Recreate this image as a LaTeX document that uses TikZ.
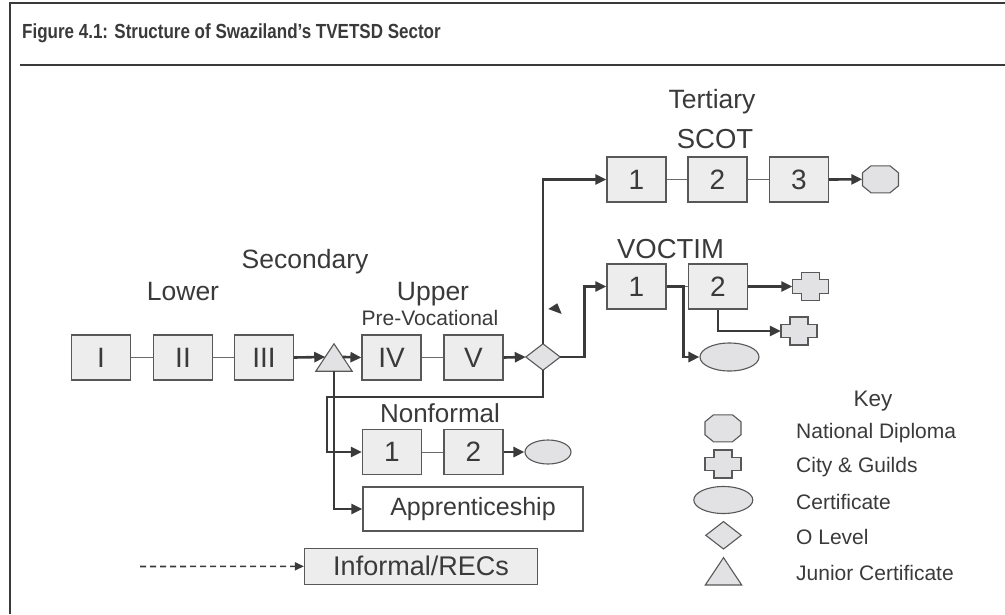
\documentclass[tikz,border=0pt]{standalone}
\usepackage{fontspec}
\setmainfont{Liberation Sans}
\usetikzlibrary{arrows.meta,shapes.geometric,calc}
\definecolor{ink}{HTML}{3A3A3A}
\definecolor{boxfill}{HTML}{EDEDED}
\definecolor{markfill}{HTML}{E2E2E4}

% outlines of the award symbols, drawn round an invisible slot node
\newcommand\octmark[1]{\filldraw[markshape] (#1.center) +(-9.5,-13.5) -- +(9.5,-13.5) -- +(18,-6.5) -- +(18,6.5) -- +(9.5,13.5) -- +(-9.5,13.5) -- +(-18,6.5) -- +(-18,-6.5) -- cycle;}
\newcommand\cgmark[1]{\filldraw[markshape] (#1.center) +(-9,-14) -- +(9,-14) -- +(9,-6.7) -- +(18,-6.7) -- +(18,6.7) -- +(9,6.7) -- +(9,14) -- +(-9,14) -- +(-9,6.7) -- +(-18,6.7) -- +(-18,-6.7) -- +(-9,-6.7) -- cycle;}
\newcommand\jcmark[1]{\filldraw[markshape] (#1.north) -- (#1.south east) -- (#1.south west) -- cycle;}
\newcommand\olmark[1]{\filldraw[markshape] (#1.north) -- (#1.east) -- (#1.south) -- (#1.west) -- cycle;}

\begin{document}
\begin{tikzpicture}[x=1pt,y=-1pt,
  every node/.style={text=ink},
  stage/.style={draw=ink!85, line width=1.2pt, fill=boxfill, minimum width=59pt, minimum height=45pt, inner sep=0pt, font=\fontsize{28}{30}\selectfont},
  wide/.style={draw=ink!85, line width=1.2pt, minimum width=#1, inner sep=0pt},
  markshape/.style={draw=ink!85, line width=1.1pt, fill=markfill},
  cert/.style={ellipse, draw=ink!85, line width=1.1pt, fill=markfill, inner sep=0pt},
  octslot/.style={inner sep=0pt, minimum width=36pt, minimum height=27pt},
  cgslot/.style={inner sep=0pt, minimum width=36pt, minimum height=28pt},
  jcslot/.style={inner sep=0pt, minimum width=36pt, minimum height=27pt},
  olslot/.style={inner sep=0pt, minimum width=34pt, minimum height=26pt},
  link/.style={draw=ink!75, line width=1pt},
  flow/.style={draw=ink, line width=2.6pt, -{Triangle[length=11pt,width=10pt]}},
  hint/.style={draw=ink, line width=1.6pt, dash pattern=on 6pt off 4pt, -{Triangle[length=9pt,width=8pt]}},
  big/.style={inner sep=0pt, anchor=base, font=\fontsize{26.5}{28}\selectfont},
  keytext/.style={inner sep=0pt, anchor=base west, font=\fontsize{21}{23}\selectfont}
]
\useasboundingbox (0,0) rectangle (1005,614);

% frame and title
\draw[ink, line width=2.5pt] (10,614) -- (10,3) -- (1005,3);
\draw[ink, line width=2.5pt] (20,65) -- (1005,65);
\node[inner sep=0pt, anchor=base west, font=\bfseries\fontsize{17}{20}\selectfont] (title) at (22,38) {\scalebox{1}[1.2]{Figure 4.1: Structure of Swaziland’s TVETSD Sector}};

% level headings
\node[big] (tertiary) at (712,108) {Tertiary};
\node[big, font=\fontsize{27.5}{29}\selectfont] (scot) at (715,148) {SCOT};
\node[big, font=\fontsize{27.5}{29}\selectfont] (voctim) at (670.5,258) {VOCTIM};
\node[big] (secondary) at (305,268) {Secondary};
\node[big] (lower) at (183,300) {Lower};
\node[big] (upper) at (433,300) {Upper};
\node[big, font=\fontsize{21}{23}\selectfont] (prevoc) at (430,325) {Pre-Vocational};
\node[big, font=\fontsize{26}{28}\selectfont] (nonformal) at (440,422.5) {Nonformal};

% secondary forms
\node[stage] (l1) at (101,357.5) {I};
\node[stage] (l2) at (183,357.5) {II};
\node[stage] (l3) at (264,357.5) {III};
\node[jcslot] (jc) at (334,357.5) {};
\jcmark{jc}
\node[stage] (u4) at (391.5,357.5) {IV};
\node[stage] (u5) at (473.5,357.5) {V};
\node[olslot] (ol) at (543,357) {};
\olmark{ol}

% SCOT
\node[stage] (s1) at (636.5,179.5) {1};
\node[stage] (s2) at (717.5,179.5) {2};
\node[stage] (s3) at (799,179.5) {3};
\node[octslot] (oct) at (880.5,179.3) {};
\octmark{oct}

% VOCTIM
\node[stage] (v1) at (636.5,286.5) {1};
\node[stage] (v2) at (718,286.5) {2};
\node[cgslot] (cg1) at (810.5,286.5) {};
\cgmark{cg1}
\node[cgslot] (cg2) at (799,331) {};
\cgmark{cg2}
\node[cert, minimum width=59pt, minimum height=28pt] (vcert) at (729.5,357) {};

% nonformal, apprenticeship, informal
\node[stage] (n1) at (392,452) {1};
\node[stage] (n2) at (473.5,452) {2};
\node[cert, minimum width=46pt, minimum height=24pt] (ncert) at (548,452) {};
\node[wide=220pt, minimum height=44pt, fill=white, font=\fontsize{25}{27}\selectfont] (ap) at (473,509) {Apprenticeship};
\node[wide=233pt, minimum height=36pt, fill=boxfill, font=\fontsize{27}{29}\selectfont] (inf) at (421,566.3) {Informal/RECs};
\coordinate (hintstart) at (140,566.5);

% thin links between years of a programme
\draw[link] (l1) -- (l2);
\draw[link] (l2) -- (l3);
\draw[link] (u4) -- (u5);
\draw[link] (s1) -- (s2);
\draw[link] (s2) -- (s3);
\draw[link] (v1) -- (v2);
\draw[link] (n1) -- (n2);

% progression arrows
\coordinate (jcin) at ($(jc.north)!0.48!(jc.south west)$);
\coordinate (jcout) at ($(jc.north)!0.48!(jc.south east)$);
\draw[flow] (l3.east) -- (jcin);
\draw[flow] (jcout) -- (u4.west);
\draw[flow] (u5.east) -- (ol.west);
\draw[flow] (ol.north) |- (s1.west);
\draw[flow] (ol.east) -- ++(24,0) |- (v1.west);
\coordinate (nfbend) at (327,397);
\draw[flow] (ol.south) |- (nfbend) |- (n1.west);
\draw[flow] (jc.south) |- (ap.west);
\draw[flow] (s3.east) -- (oct.west);
\draw[flow] (v2.east) -- (cg1.west);
\draw[flow] (v2.south) |- (cg2.west);
\draw[flow] (v1.east) -- ++(17,0) |- (vcert.west);
\draw[flow] (n2.east) -- (ncert.west);
\draw[hint] (hintstart) -- (inf.west);

% loose arrowhead
\fill[ink] (548.3,309) -- (561.7,314) -- (557.3,303.3) -- cycle;

% key
\node[inner sep=0pt, anchor=base, font=\fontsize{22.5}{24}\selectfont] (key) at (873,406.7) {Key};
\node[octslot] (koct) at (723,428.3) {};
\octmark{koct}
\node[cgslot] (kcg) at (723,464) {};
\cgmark{kcg}
\node[cert, minimum width=59pt, minimum height=27pt] (kcert) at (723.3,500) {};
\node[olslot, minimum width=35pt, minimum height=27pt] (kol) at (723.5,535.3) {};
\olmark{kol}
\node[jcslot] (kjc) at (723.5,571.3) {};
\jcmark{kjc}
\node[keytext] (kt1) at (796,438.3) {National Diploma};
\node[keytext] (kt2) at (796,472.7) {City \& Guilds};
\node[keytext] (kt3) at (796,509) {Certificate};
\node[keytext] (kt4) at (796,544.3) {O Level};
\node[keytext] (kt5) at (796,580) {Junior Certificate};
\end{tikzpicture}
\end{document}
